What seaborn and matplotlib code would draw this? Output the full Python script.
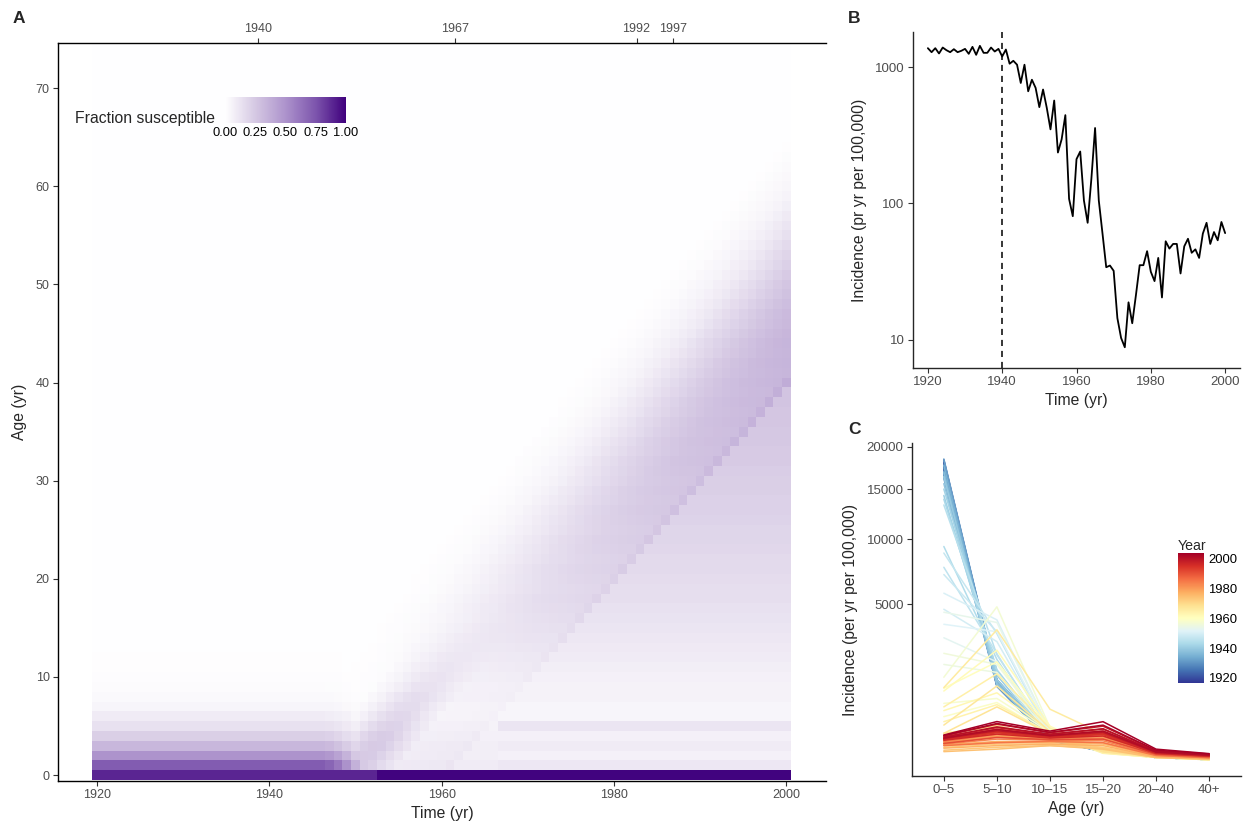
import numpy as np
import pandas as pd
import matplotlib
matplotlib.use("Agg")
import matplotlib.pyplot as plt
import seaborn as sns
from matplotlib.colors import LinearSegmentedColormap, Normalize
from matplotlib.cm import ScalarMappable

# ---------------- data ----------------
years = list(range(1920, 2001))
ages = list(range(0, 75))

# panel A: susceptible fraction, built from read-off profiles
age0_level = [0.89] * 33 + [0.99] * 48            # infants, per year
early_profile = [0.89, 0.72, 0.50, 0.33, 0.22, 0.14, 0.09, 0.05, 0.03,
                 0.02, 0.015, 0.01, 0.01]          # pre-vaccine childhood, by age
early_share = [1.0] * 27 + [0.95, 0.85, 0.70, 0.50, 0.30, 0.15, 0.05] + [0.0] * 47
age_level = [0.99, 0.11, 0.07, 0.09, 0.07, 0.12, 0.05, 0.05, 0.06, 0.06,
             0.07, 0.08, 0.09, 0.10, 0.11, 0.12, 0.13, 0.14, 0.15, 0.15,
             0.16, 0.17, 0.17, 0.18, 0.19, 0.19, 0.20, 0.21, 0.21, 0.22,
             0.22, 0.23, 0.24, 0.24, 0.25, 0.25, 0.26, 0.26, 0.27, 0.27,
             0.28, 0.28, 0.29, 0.29, 0.30, 0.30, 0.30, 0.31, 0.31, 0.31,
             0.32, 0.32, 0.32, 0.33, 0.33, 0.33, 0.34, 0.34, 0.34, 0.34,
             0.35, 0.35, 0.35, 0.35, 0.35, 0.36, 0.36, 0.36, 0.36, 0.36,
             0.36, 0.37, 0.37, 0.37, 0.37]         # post-1960 cohorts, by age
young_level_pre1967 = [0.99, 0.09, 0.08, 0.08, 0.07, 0.06]   # ages 0-5 before 1967
cohort_years = list(range(1933, 1961))
cohort_weight = [0.0, 0.01, 0.02, 0.03, 0.05, 0.07, 0.10, 0.13, 0.17, 0.22,
                 0.28, 0.35, 0.43, 0.51, 0.59, 0.67, 0.75, 0.83, 0.90, 0.96,
                 1.02, 1.07, 1.11, 1.14, 1.16, 1.18, 1.20, 1.36]
extra_years = list(range(1944, 1954))
cohort_extra = [0.03, 0.06, 0.10, 0.14, 0.17, 0.18, 0.17, 0.13, 0.08, 0.04]
age_fade = [0, 1, 1, 1, 1, 0.9, 0.8, 0.7, 0.6, 0.5, 0.4, 0.3, 0.22, 0.15, 0.1, 0.05]
floor_level = 0.005

# panel B: incidence per year
incidence = [1375, 1285, 1375, 1257, 1390, 1329, 1285, 1352, 1285, 1315,
             1359, 1250, 1406, 1229, 1430, 1271, 1271, 1390, 1300, 1359,
             1195, 1344, 1057, 1111, 1040, 764, 1040, 664, 807, 703,
             508, 684, 502, 349, 568, 236, 295, 444, 108, 80.5,
             211, 240, 105, 72, 151, 357, 105, 60, 34, 35,
             32, 14.4, 10.3, 8.8, 18.8, 13.2, 21.3, 35.2, 35.2, 44.6,
             31.5, 26.9, 39.8, 20.4, 52.7, 46.6, 50.4, 50.4, 30.6, 48.4,
             55, 43.4, 46, 39.8, 60, 72, 50.4, 61.6, 53.6, 73, 60.5]

# panel C: incidence by age group, per year
age_groups = ["0\u20135", "5\u201310", "10\u201315", "15\u201320", "20\u201340", "40+"]
inc_0_5 = [18400, 17200, 18100, 16800, 18000, 17500, 16900, 17600, 16700, 17300,
           17800, 16500, 18300, 16200, 18500, 17000, 16800, 17700, 16400, 16900,
           15600, 16400, 14300, 15000, 13900, 9340, 13300, 7620, 8780, 7060,
           4680, 5720, 3800, 3090, 4500, 1900, 2360, 1430, 680, 404,
           1080, 1000, 520, 318, 600, 1100, 266, 159, 160, 140,
           120, 40, 25, 19, 50, 35, 55, 70, 75, 85,
           65, 60, 80, 50, 100, 95, 100, 100, 65, 100,
           110, 95, 100, 90, 120, 130, 105, 120, 110, 135, 140]
inc_5_10 = [1300, 1200, 1280, 1150, 1320, 1250, 1180, 1260, 1170, 1240,
            1290, 1160, 1340, 1130, 1350, 1220, 1200, 1300, 1180, 1250,
            1200, 1350, 1500, 1660, 1700, 2100, 2300, 2340, 3300, 3400,
            2900, 4050, 3400, 2000, 3900, 1600, 1900, 4830, 800, 700,
            2000, 2500, 950, 650, 1550, 3500, 1150, 600, 250, 260,
            200, 60, 40, 30, 70, 50, 80, 140, 130, 170,
            120, 100, 150, 70, 200, 180, 190, 190, 115, 185,
            210, 165, 175, 150, 230, 280, 190, 240, 205, 290, 320]
inc_10_15 = [110, 95, 105, 90, 110, 100, 95, 100, 92, 98,
             105, 90, 112, 88, 115, 100, 96, 105, 92, 100,
             95, 105, 100, 110, 115, 100, 130, 110, 150, 140,
             150, 190, 170, 160, 190, 150, 160, 230, 170, 150,
             220, 250, 180, 160, 220, 550, 180, 150, 120, 110,
             100, 60, 50, 50, 70, 60, 80, 100, 100, 120,
             95, 90, 110, 80, 130, 120, 130, 125, 95, 125,
             135, 115, 120, 110, 145, 165, 130, 150, 135, 170, 185]
inc_15_20 = [25, 22, 24, 20, 26, 23, 21, 24, 21, 22,
             24, 20, 26, 19, 27, 22, 22, 24, 21, 23,
             21, 24, 22, 24, 25, 20, 26, 22, 28, 24,
             26, 28, 25, 22, 26, 20, 22, 24, 15, 14,
             18, 20, 15, 13, 18, 150, 20, 18, 25, 30,
             35, 40, 35, 30, 60, 50, 70, 110, 110, 130,
             100, 85, 125, 70, 170, 150, 160, 165, 100, 160,
             185, 145, 155, 130, 210, 250, 170, 215, 185, 265, 318]
inc_20_40 = [4, 4, 4, 3, 4, 4, 3, 4, 3, 4,
             4, 3, 4, 3, 4, 4, 3, 4, 3, 4,
             3, 4, 3, 3, 3, 3, 3, 3, 3, 3,
             3, 3, 3, 3, 3, 3, 3, 3, 3, 3,
             4, 4, 3, 3, 4, 8, 4, 4, 4, 5,
             5, 4, 3, 3, 5, 4, 6, 10, 10, 12,
             9, 8, 11, 7, 14, 13, 14, 14, 10, 14,
             16, 13, 15, 13, 18, 22, 16, 20, 18, 25, 30]
inc_40p = [0.8, 0.7, 0.8, 0.6, 0.8, 0.7, 0.6, 0.7, 0.6, 0.7,
           0.8, 0.6, 0.8, 0.6, 0.8, 0.7, 0.7, 0.8, 0.6, 0.7,
           0.6, 0.7, 0.6, 0.6, 0.6, 0.6, 0.6, 0.6, 0.6, 0.6,
           0.6, 0.6, 0.6, 0.6, 0.6, 0.6, 0.6, 0.6, 0.5, 0.5,
           0.6, 0.6, 0.5, 0.5, 0.6, 1.5, 0.6, 0.6, 0.8, 1.0,
           1.0, 1.5, 1.2, 1.0, 2.0, 1.5, 2.5, 4.0, 4.0, 5.0,
           3.5, 3.0, 4.5, 2.5, 6.0, 5.5, 6.0, 6.0, 4.0, 6.0,
           7.0, 5.5, 6.0, 5.5, 8.0, 10, 7.0, 9.0, 8.0, 11, 12]

top_labels = ["1940", "1967", "1992", "1997"]

# ---------------- layout helpers ----------------
W, H = 1247, 822


def box(l, t, r, b):
    return [l / W, 1 - b / H, (r - l) / W, (b - t) / H]


sns.set_style("ticks")
plt.rcParams["font.family"] = ["Liberation Sans", "DejaVu Sans"]
plt.rcParams["axes.linewidth"] = 1.0

GREY = "#4d4d4d"
fig = plt.figure(figsize=(W / 100, H / 100), dpi=100)

# ---------------- panel A ----------------
grid = np.zeros((len(ages), len(years)))
for j, t in enumerate(years):
    for a in ages:
        if a == 0:
            grid[a, j] = age0_level[j]
            continue
        c = t - a
        if c < cohort_years[0]:
            w = 0.0
        elif c > cohort_years[-1]:
            w = 1.0
        else:
            w = cohort_weight[c - cohort_years[0]]
        level = age_level[a]
        if t < 1967 and a < len(young_level_pre1967):
            level = young_level_pre1967[a]
        extra = 0.0
        if extra_years[0] <= c <= extra_years[-1] and a < len(age_fade):
            extra = cohort_extra[c - extra_years[0]] * age_fade[a]
        early = early_share[j] * (early_profile[a] if a < len(early_profile) else 0.0)
        grid[a, j] = max(early, level * w + extra, floor_level)

susc = pd.DataFrame(grid, index=ages, columns=years)
cmap_a = LinearSegmentedColormap.from_list(
    "susc", ["#ffffff", "#d5c8e3", "#ad93cc", "#7d55ad", "#3f007d"])

axA = fig.add_axes(box(58, 43, 826, 781))
caxA = fig.add_axes(box(225, 97, 346, 123))
sns.heatmap(susc, ax=axA, cmap=cmap_a, vmin=0, vmax=1, cbar_ax=caxA,
            cbar_kws={"orientation": "horizontal"},
            xticklabels=False, yticklabels=False)

x0 = years[0] - 0.5   # heatmap column i sits at [i, i+1]
axA.set_xlim(1915.5 - x0, 2004.6 - x0)
axA.set_ylim(-0.6 + 0.5, 74.6 + 0.5)
for s in ["left", "top", "bottom"]:
    axA.spines[s].set_visible(True)
    axA.spines[s].set_color("black")
    axA.spines[s].set_linewidth(1.0)
axA.spines["right"].set_visible(False)
axA.set_xticks([y - x0 for y in range(1920, 2001, 20)],
               [str(y) for y in range(1920, 2001, 20)])
axA.set_yticks([a + 0.5 for a in range(0, 71, 10)],
               [str(a) for a in range(0, 71, 10)], rotation=0)
axA.tick_params(labelsize=9, labelcolor=GREY, length=3.5, width=0.8,
                color="#333333", pad=2.5)
axA.set_xlabel("Time (yr)", fontsize=11.3, labelpad=3)
axA.set_ylabel("Age (yr)", fontsize=11.3, labelpad=6)

top_pos = [1938.72, 1961.54, 1982.62, 1986.8]
sec = axA.secondary_xaxis("top")
sec.set_xticks([p - x0 for p in top_pos], top_labels)
sec.tick_params(labelsize=9, labelcolor=GREY, length=3.5, width=0.8,
                color="#333333", pad=2)
sec.spines["top"].set_visible(False)

cbA = axA.collections[0].colorbar
cbA.outline.set_visible(False)
cbA.set_ticks([0, 0.25, 0.5, 0.75, 1.0])
cbA.set_ticklabels(["0.00", "0.25", "0.50", "0.75", "1.00"])
caxA.tick_params(axis="x", direction="in", color="white", length=5, width=0.8,
                 top=True, bottom=True, labelsize=9.3, labelcolor="black", pad=3)
fig.text(215 / W, 1 - 122.7 / H, "Fraction susceptible", ha="right",
         va="baseline", fontsize=11.3)

# ---------------- panel B ----------------
axB = fig.add_axes(box(913, 32, 1240, 368))
sns.lineplot(x=years, y=incidence, ax=axB, color="black", lw=1.3)
axB.set_yscale("log")
axB.set_ylim(6.2, 1807)
axB.set_xlim(1916, 2004)
axB.axvline(1940, color="black", lw=1.1, dashes=(4, 3.2))
axB.set_xticks(range(1920, 2001, 20))
axB.set_yticks([10, 100, 1000], ["10", "100", "1000"])
axB.minorticks_off()
axB.tick_params(labelsize=9.5, labelcolor=GREY, length=3.5, width=0.8,
                color="#333333", pad=2.5)
axB.set_xlabel("Time (yr)", fontsize=11.3, labelpad=3)
axB.set_ylabel("Incidence (pr yr per 100,000)", fontsize=11.3, labelpad=6)
sns.despine(ax=axB)

# ---------------- panel C ----------------
rows = []
series = [inc_0_5, inc_5_10, inc_10_15, inc_15_20, inc_20_40, inc_40p]
for j, yr in enumerate(years):
    for k, vals in enumerate(series):
        rows.append({"year": yr, "pos": k, "inc": vals[j]})
dfC = pd.DataFrame(rows)

axC = fig.add_axes(box(912, 443, 1241, 776))
sns.lineplot(data=dfC, x="pos", y="inc", hue="year", units="year",
             estimator=None, palette="RdYlBu_r", hue_norm=(1920, 2000),
             legend=False, lw=1.1, ax=axC)
axC.set_yscale("function", functions=(lambda v: np.sign(v) * np.sqrt(np.abs(v)),
                                      lambda v: np.sign(v) * v ** 2))
axC.set_ylim(-43.6, 20506)
axC.set_xlim(-0.6, 5.6)
axC.set_yticks([5000, 10000, 15000, 20000], ["5000", "10000", "15000", "20000"])
axC.set_xticks(range(6), age_groups)
axC.minorticks_off()
axC.tick_params(labelsize=9.5, labelcolor=GREY, length=3.5, width=0.8,
                color="#333333", pad=2.5)
axC.set_xlabel("Age (yr)", fontsize=11.3, labelpad=3)
axC.set_ylabel("Incidence (per yr per 100,000)", fontsize=11.3, labelpad=6)
sns.despine(ax=axC)

caxC = fig.add_axes(box(1178, 553, 1204, 683))
cbC = fig.colorbar(ScalarMappable(norm=Normalize(1916.6, 2004), cmap="RdYlBu_r"),
                   cax=caxC)
cbC.outline.set_visible(False)
cbC.set_ticks([1920, 1940, 1960, 1980, 2000])
caxC.tick_params(axis="y", direction="in", color="white", length=5, width=0.8,
                 left=True, right=True, labelsize=9.4, labelcolor="black", pad=3)
fig.text(1178 / W, 1 - 550 / H, "Year", ha="left", va="baseline", fontsize=10.2)

# ---------------- panel letters ----------------
for letter, (px, py) in {"A": (12.7, 22.7), "B": (848, 23), "C": (848, 434)}.items():
    fig.text(px / W, 1 - py / H, letter, fontsize=12.5, fontweight="bold",
             ha="left", va="baseline")

fig.savefig("out.png", dpi=100)
